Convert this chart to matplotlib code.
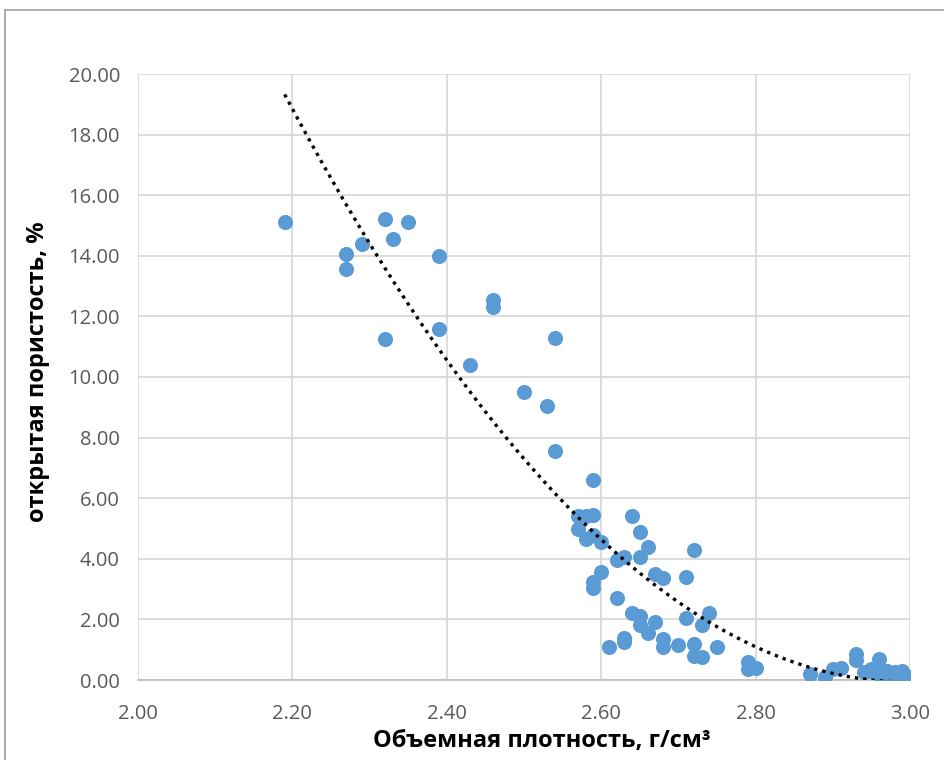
import matplotlib
matplotlib.use("Agg")
import matplotlib.pyplot as plt
import numpy as np
from matplotlib.lines import Line2D

plt.rcParams['font.family'] = ['Open Sans', 'DejaVu Sans']

density = [2.19, 2.27, 2.27, 2.29, 2.32, 2.33, 2.35, 2.32, 2.39, 2.39,
           2.43, 2.46, 2.46, 2.50, 2.53, 2.54, 2.54, 2.59,
           2.57, 2.58, 2.59, 2.57, 2.58, 2.59, 2.60, 2.60, 2.59, 2.59,
           2.61, 2.62, 2.62, 2.63, 2.64, 2.65, 2.65, 2.66, 2.63, 2.63,
           2.64, 2.65, 2.65, 2.66, 2.67, 2.67, 2.68, 2.68, 2.68, 2.70,
           2.71, 2.71, 2.72, 2.72, 2.72, 2.73, 2.73, 2.74, 2.75,
           2.79, 2.79, 2.80,
           2.87, 2.89, 2.90, 2.91, 2.93, 2.93, 2.94, 2.95, 2.96, 2.96,
           2.97, 2.98, 2.99, 3.00, 2.98, 2.995, 2.95, 2.97, 2.985, 2.99]
porosity = [15.1, 14.05, 13.55, 14.4, 15.2, 14.55, 15.1, 11.25, 14.0, 11.6,
            10.4, 12.55, 12.3, 9.5, 9.05, 11.3, 7.55, 6.6,
            5.4, 5.4, 5.45, 5.0, 4.65, 4.8, 4.55, 3.55, 3.25, 3.05,
            1.1, 2.7, 3.95, 4.05, 5.4, 4.9, 4.05, 4.4, 1.25, 1.4,
            2.2, 2.1, 1.8, 1.55, 1.9, 3.5, 3.35, 1.35, 1.1, 1.15,
            3.4, 2.05, 4.3, 1.2, 0.8, 0.75, 1.8, 2.2, 1.1,
            0.6, 0.35, 0.4,
            0.2, 0.1, 0.35, 0.4, 0.85, 0.65, 0.25, 0.3, 0.7, 0.2,
            0.15, 0.2, 0.15, 0.1, 0.25, 0.05, 0.35, 0.3, 0.2, 0.3]

x_ticks = [2.00, 2.20, 2.40, 2.60, 2.80, 3.00]
y_ticks = [0, 2, 4, 6, 8, 10, 12, 14, 16, 18, 20]

W, H = 945, 760
fig = plt.figure(figsize=(W / 100, H / 100), dpi=100)
ax = fig.add_axes([138 / W, 1 - 680 / H, (910 - 138) / W, (680 - 74) / H])

ax.scatter(density, porosity, s=118, color='#5B9BD5', zorder=3, linewidths=0)

coef = np.polyfit(density, porosity, 2)
xt = np.linspace(min(density), max(density), 300)
yt = np.polyval(coef, xt)
ax.plot(xt, yt, color='black', linestyle=(0, (1, 1.5)), linewidth=2.4, zorder=4)

ax.set_xlim(2.0, 3.0)
ax.set_ylim(0, 20)
ax.set_xticks(x_ticks)
ax.set_yticks(y_ticks)
ax.set_xticklabels([f"{v:.2f}" for v in x_ticks])
ax.set_yticklabels([f"{v:.2f}" for v in y_ticks])
ax.grid(True, color='#D9D9D9', linewidth=1.3)
ax.set_axisbelow(True)
for s in ['top', 'right', 'left']:
    ax.spines[s].set_visible(False)
ax.spines['bottom'].set_color('#BFBFBF')
ax.spines['bottom'].set_linewidth(1.3)
ax.tick_params(axis='both', length=0, labelsize=14.5, labelcolor='#595959')
ax.tick_params(axis='x', pad=17)
ax.tick_params(axis='y', pad=13)

fig.text(542 / W, 1 - 741 / H, 'Объемная плотность, г/см³', ha='center', va='center',
         fontsize=17, fontweight='bold', color='black')
fig.text(38 / W, 1 - 372 / H, 'открытая пористость, %', ha='center', va='center',
         rotation=90, fontsize=17, fontweight='bold', color='black')

fig.add_artist(Line2D([5 / W, 5 / W], [0, 1 - 10 / H], transform=fig.transFigure,
                      color='#A6A6A6', linewidth=1.3))
fig.add_artist(Line2D([5 / W, 1], [1 - 10 / H, 1 - 10 / H], transform=fig.transFigure,
                      color='#A6A6A6', linewidth=1.3))

fig.savefig('out.png', dpi=100)
